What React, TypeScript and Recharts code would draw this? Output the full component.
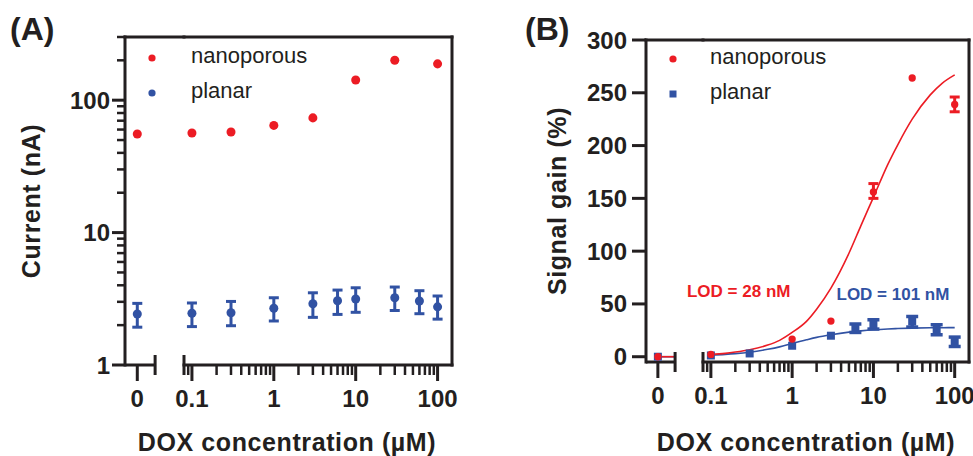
import React from 'react'
import {
  ComposedChart,
  ErrorBar,
  Label,
  Legend,
  Line,
  ReferenceDot,
  ReferenceLine,
  Scatter,
  XAxis,
  YAxis,
  ZAxis,
} from 'recharts'

const RED = '#ec1c24'
const BLUE = '#3152a3'
const INK = '#231f20'
const FONT = '"Liberation Sans", Arial, Helvetica, sans-serif'

// shared broken x axis: a short "0" stub, then a log axis from 0.08 to 150 µM
const ZERO_BREAK = 1.45
const zeroDomain = [-1, 3.8]
const logDomain = [0.08, 150]
const logTicks = [
  0.08, 0.09, 0.1, 0.2, 0.3, 0.4, 0.5, 0.6, 0.7, 0.8, 0.9, 1, 2, 3, 4, 5, 6, 7, 8, 9, 10, 20, 30, 40, 50, 60, 70, 80,
  90, 100,
]
const logLabels = [0.1, 1, 10, 100]

// (A) current
const currentTicks = [1, 2, 3, 4, 5, 6, 7, 8, 9, 10, 20, 30, 40, 50, 60, 70, 80, 90, 100, 200, 300]
const currentLabels = [1, 10, 100]
const nanoConcA = [0, 0.1, 0.3, 1, 3, 10, 30, 100]
const nanoCurrent = [55.5, 56.5, 57.5, 64.5, 73.5, 142, 200, 188]
const planarConcA = [0, 0.1, 0.3, 1, 3, 6, 10, 30, 60, 100]
const planarCurrent = [2.43, 2.46, 2.48, 2.68, 2.9, 3.06, 3.15, 3.22, 3.04, 2.75]
const planarCurrentLow = [1.93, 1.95, 1.98, 2.15, 2.29, 2.41, 2.5, 2.58, 2.44, 2.22]
const planarCurrentHigh = [2.92, 2.94, 3.02, 3.22, 3.51, 3.68, 3.83, 3.88, 3.64, 3.32]

// (B) signal gain
const gainTicks = [0, 50, 100, 150, 200, 250, 300]
const nanoConcB = [0, 0.1, 1, 3, 10, 30, 100]
const nanoGain = [0, 2.2, 16.7, 33.8, 156, 264, 239]
const nanoGainLow = [null, null, null, null, 150, null, 232]
const nanoGainHigh = [null, null, null, null, 164, null, 246]
const planarConcB = [0, 0.1, 0.3, 1, 3, 6, 10, 30, 60, 100]
const planarGain = [0, 1.2, 3.1, 10.4, 19.9, 27.1, 30.3, 33.4, 25.6, 13.9]
const planarGainLow = [null, null, null, null, null, 23, 26.2, 28.1, 20.8, 9.7]
const planarGainHigh = [null, null, null, null, null, 31, 35, 38.1, 30.3, 18.6]

// fitted curves
const fitConc = [0.1, 0.15, 0.2, 0.3, 0.5, 0.7, 1, 1.5, 2, 3, 5, 7, 10, 15, 20, 30, 50, 70, 100]
const nanoFit = [2.2, 3.2, 4.4, 6.6, 11, 15.5, 23, 33.5, 45, 65, 98, 124, 151, 182, 201, 225, 248, 259, 267]
const planarFit = [1.5, 2.2, 2.9, 4.3, 7, 9.3, 12.5, 16, 18.3, 20.8, 23.3, 24.5, 25.5, 26.3, 26.7, 27.1, 27.4, 27.5, 27.6]
const fitAtZero = 0

const lodNano = { text: 'LOD = 28 nM', x: 0.22, y: 62 }
const lodPlanar = { text: 'LOD = 101 nM', x: 17.4, y: 59 }

type Pt = { x: number; y: number; err?: number[] }

const toPoints = (xs: number[], ys: number[], lo?: (number | null)[], hi?: (number | null)[]): Pt[] =>
  xs.map((x, i) => {
    const l = lo?.[i]
    const h = hi?.[i]
    return { x, y: ys[i], err: l != null && h != null ? [ys[i] - l, h - ys[i]] : undefined }
  })

const onZero = (d: Pt[]) => d.filter((p) => p.x === 0)
const onLog = (d: Pt[]) => d.filter((p) => p.x > 0)

const nanoA = toPoints(nanoConcA, nanoCurrent)
const planarA = toPoints(planarConcA, planarCurrent, planarCurrentLow, planarCurrentHigh)
const nanoB = toPoints(nanoConcB, nanoGain, nanoGainLow, nanoGainHigh)
const planarB = toPoints(planarConcB, planarGain, planarGainLow, planarGainHigh)
const nanoFitData = toPoints(fitConc, nanoFit)
const planarFitData = toPoints(fitConc, planarFit)
const zeroFitData = toPoints([0, ZERO_BREAK], [fitAtZero, fitAtZero])

const frameLine = { stroke: INK, strokeWidth: 3, strokeLinecap: 'square' as const }
const boldText = { fill: INK, fontFamily: FONT, fontWeight: 'bold' as const }

const makeXTick = (labels: number[], breakAt: number) => (props: any) => {
  const { x, y, payload } = props
  const v = payload.value
  if (v === breakAt) {
    return <line x1={x} x2={x} y1={y - 10} y2={y + 10} stroke={INK} strokeWidth={3} />
  }
  const major = labels.includes(v)
  return (
    <g>
      <line x1={x} x2={x} y1={y} y2={y + (major ? 16 : 10)} stroke={INK} strokeWidth={major ? 3 : 2.5} />
      {major && (
        <text x={x} y={y + 42} textAnchor="middle" fontSize={24} {...boldText}>
          {String(v)}
        </text>
      )}
    </g>
  )
}

const makeYTick = (labels: number[], gap: number, majorLen: number) => (props: any) => {
  const { x, y, payload } = props
  const v = payload.value
  const major = labels.includes(v)
  return (
    <g>
      <line x1={x} x2={x - (major ? majorLen : 8)} y1={y} y2={y} stroke={INK} strokeWidth={major ? 3 : 2.5} />
      {major && (
        <text x={x - gap} y={y + 8.5} textAnchor="end" fontSize={24} {...boldText}>
          {String(v)}
        </text>
      )}
    </g>
  )
}

const xTitle = (dx: number) => (props: any) => {
  const { x, y, width, height } = props.viewBox
  return (
    <text x={x + width / 2 + dx} y={y + height - 5} textAnchor="middle" fontSize={25} letterSpacing={0.6} {...boldText}>
      DOX concentration (µM)
    </text>
  )
}

const yTitle = (title: string, baselineX: number) => (props: any) => {
  const { x, y, height } = props.viewBox
  const cx = x + baselineX
  const cy = y + height / 2
  return (
    <text
      x={cx}
      y={cy}
      transform={`rotate(-90 ${cx} ${cy})`}
      textAnchor="middle"
      fontSize={25}
      letterSpacing={0.6}
      {...boldText}
    >
      {title}
    </text>
  )
}

const makeLegend = (textGap: number) => (props: any) => (
  <div style={{ fontFamily: FONT }}>
    {(props.payload ?? [])
      .filter((item: any) => item.type !== 'none')
      .map((item: any) => (
        <div key={item.value} style={{ display: 'flex', alignItems: 'center', height: 35 }}>
          <svg width={10} height={10} style={{ display: 'block' }}>
            {item.type === 'square' ? (
              <rect x={1.5} y={1.5} width={7} height={7} fill={item.color} />
            ) : (
              <circle cx={5} cy={5} r={3.6} fill={item.color} />
            )}
          </svg>
          <span style={{ marginLeft: textGap, fontSize: 22, lineHeight: '22px', color: INK, position: 'relative', top: -2 }}>
            {item.value}
          </span>
        </div>
      ))}
  </div>
)

const lodShape = (text: string, color: string) => (p: any) => (
  <text x={p.cx} y={p.cy + 6} textAnchor="middle" fill={color} fontFamily={FONT} fontWeight="bold" fontSize={17}>
    {text}
  </text>
)

const zeroTick = makeXTick([0], ZERO_BREAK)
const logTick = makeXTick(logLabels, 0.08)

const panelLetter = (letter: string, left: number) => (
  <div
    style={{
      position: 'absolute',
      left,
      top: 13,
      fontFamily: FONT,
      fontWeight: 'bold',
      fontSize: 32,
      lineHeight: '32px',
      color: INK,
    }}
  >
    {letter}
  </div>
)

function PanelA() {
  return (
    <>
      {panelLetter('(A)', 10)}
      <div style={{ position: 'absolute', left: 0, top: 0 }}>
        <ComposedChart width={194} height={456} margin={{ top: 0, right: 10, bottom: 0, left: 0 }}>
          <XAxis xAxisId="top" orientation="top" type="number" domain={[0, 1]} height={37} tick={false} tickLine={false} axisLine={frameLine} />
          <XAxis
            dataKey="x"
            type="number"
            domain={zeroDomain}
            allowDataOverflow
            ticks={[0, ZERO_BREAK]}
            interval={0}
            height={91}
            axisLine={false}
            tickLine={false}
            tickSize={0}
            tickMargin={0}
            tick={zeroTick}
          />
          <YAxis
            dataKey="y"
            type="number"
            scale="log"
            domain={[1, 300]}
            allowDataOverflow
            ticks={currentTicks}
            interval={0}
            width={125}
            axisLine={frameLine}
            tickLine={false}
            tickSize={0}
            tickMargin={0}
            tick={makeYTick(currentLabels, 15, 13)}
          >
            <Label content={yTitle('Current (nA)', 40)} />
          </YAxis>
          <ZAxis range={[40, 40]} />
          <ZAxis zAxisId="small" range={[20, 20]} />
          <ReferenceLine
            segment={[
              { x: zeroDomain[0], y: 1 },
              { x: ZERO_BREAK, y: 1 },
            ]}
            stroke={INK}
            strokeWidth={3}
            ifOverflow="visible"
          />
          <Scatter name="nanoporous" data={onZero(nanoA)} fill={RED} legendType="circle" isAnimationActive={false} />
          <Scatter name="planar" data={onZero(planarA)} fill={BLUE} zAxisId="small" legendType="circle" isAnimationActive={false}>
            <ErrorBar dataKey="err" direction="y" width={5} strokeWidth={3} stroke={BLUE} isAnimationActive={false} />
          </Scatter>
          <Legend
            layout="vertical"
            align="center"
            verticalAlign="middle"
            content={makeLegend(34)}
            wrapperStyle={{ left: 147, top: 40.5, width: 220, height: 70 }}
          />
        </ComposedChart>
      </div>
      {/* log part: wide left margin so the shared x title is not clipped */}
      <div style={{ position: 'absolute', left: 0, top: 0 }}>
        <ComposedChart width={482} height={456} margin={{ top: 0, right: 0, bottom: 0, left: 184 }}>
          <XAxis xAxisId="top" orientation="top" type="number" domain={[0, 1]} height={37} tick={false} tickLine={false} axisLine={frameLine} />
          <XAxis
            dataKey="x"
            type="number"
            scale="log"
            domain={logDomain}
            allowDataOverflow
            ticks={logTicks}
            interval={0}
            height={91}
            axisLine={frameLine}
            tickLine={false}
            tickSize={0}
            tickMargin={0}
            tick={logTick}
          >
            <Label content={xTitle(-31)} />
          </XAxis>
          <YAxis dataKey="y" type="number" scale="log" domain={[1, 300]} allowDataOverflow hide />
          <YAxis yAxisId="right" orientation="right" type="number" domain={[0, 1]} width={30} tick={false} tickLine={false} axisLine={frameLine} />
          <ZAxis range={[40, 40]} />
          <ZAxis zAxisId="small" range={[20, 20]} />
          <Scatter name="nanoporous" data={onLog(nanoA)} fill={RED} isAnimationActive={false} />
          <Scatter name="planar" data={onLog(planarA)} fill={BLUE} zAxisId="small" isAnimationActive={false}>
            <ErrorBar dataKey="err" direction="y" width={5} strokeWidth={3} stroke={BLUE} isAnimationActive={false} />
          </Scatter>
        </ComposedChart>
      </div>
    </>
  )
}

function PanelB() {
  return (
    <>
      {panelLetter('(B)', 525)}
      <div style={{ position: 'absolute', left: 490, top: 0 }}>
        <ComposedChart width={223} height={456} margin={{ top: 0, right: 10, bottom: 0, left: 0 }}>
          <XAxis xAxisId="top" orientation="top" type="number" domain={[0, 1]} height={40} tick={false} tickLine={false} axisLine={frameLine} />
          <XAxis
            dataKey="x"
            type="number"
            domain={zeroDomain}
            allowDataOverflow
            ticks={[0, ZERO_BREAK]}
            interval={0}
            height={94}
            axisLine={false}
            tickLine={false}
            tickSize={0}
            tickMargin={0}
            tick={zeroTick}
          />
          <YAxis
            dataKey="y"
            type="number"
            domain={[-5, 300]}
            allowDataOverflow
            ticks={gainTicks}
            interval={0}
            width={156}
            axisLine={frameLine}
            tickLine={false}
            tickSize={0}
            tickMargin={0}
            tick={makeYTick(gainTicks, 19, 14)}
          >
            <Label content={yTitle('Signal gain (%)', 76)} />
          </YAxis>
          <ZAxis range={[42, 42]} />
          <ZAxis zAxisId="sq" range={[50, 50]} />
          <ReferenceLine
            segment={[
              { x: zeroDomain[0], y: -5 },
              { x: ZERO_BREAK, y: -5 },
            ]}
            stroke={INK}
            strokeWidth={3}
            ifOverflow="visible"
          />
          <Line data={zeroFitData} dataKey="y" stroke={BLUE} strokeWidth={1.6} dot={false} legendType="none" isAnimationActive={false} />
          <Line data={zeroFitData} dataKey="y" stroke={RED} strokeWidth={1.6} dot={false} legendType="none" isAnimationActive={false} />
          <Scatter name="planar" data={onZero(planarB)} fill={BLUE} shape="square" zAxisId="sq" legendType="square" isAnimationActive={false} />
          <Scatter name="nanoporous" data={onZero(nanoB)} fill={RED} legendType="circle" isAnimationActive={false} />
          <Legend
            layout="vertical"
            align="center"
            verticalAlign="middle"
            content={makeLegend(32)}
            wrapperStyle={{ left: 178, top: 41.5, width: 220, height: 70 }}
          />
        </ComposedChart>
      </div>
      <div style={{ position: 'absolute', left: 490, top: 0 }}>
        <ComposedChart width={483} height={456} margin={{ top: 0, right: 0, bottom: 0, left: 213 }}>
          <XAxis xAxisId="top" orientation="top" type="number" domain={[0, 1]} height={40} tick={false} tickLine={false} axisLine={frameLine} />
          <XAxis
            dataKey="x"
            type="number"
            scale="log"
            domain={logDomain}
            allowDataOverflow
            ticks={logTicks}
            interval={0}
            height={94}
            axisLine={frameLine}
            tickLine={false}
            tickSize={0}
            tickMargin={0}
            tick={logTick}
          >
            <Label content={xTitle(-30)} />
          </XAxis>
          <YAxis dataKey="y" type="number" domain={[-5, 300]} allowDataOverflow hide />
          <YAxis yAxisId="right" orientation="right" type="number" domain={[0, 1]} width={4} tick={false} tickLine={false} axisLine={frameLine} />
          <ZAxis range={[42, 42]} />
          <ZAxis zAxisId="sq" range={[50, 50]} />
          <Line data={planarFitData} dataKey="y" type="monotone" stroke={BLUE} strokeWidth={1.6} dot={false} legendType="none" isAnimationActive={false} />
          <Line data={nanoFitData} dataKey="y" type="monotone" stroke={RED} strokeWidth={1.6} dot={false} legendType="none" isAnimationActive={false} />
          <Scatter name="planar" data={onLog(planarB)} fill={BLUE} shape="square" zAxisId="sq" isAnimationActive={false}>
            <ErrorBar dataKey="err" direction="y" width={6} strokeWidth={3.5} stroke={BLUE} isAnimationActive={false} />
          </Scatter>
          <Scatter name="nanoporous" data={onLog(nanoB)} fill={RED} isAnimationActive={false}>
            <ErrorBar dataKey="err" direction="y" width={5} strokeWidth={3} stroke={RED} isAnimationActive={false} />
          </Scatter>
          <ReferenceDot x={lodNano.x} y={lodNano.y} r={0} ifOverflow="visible" shape={lodShape(lodNano.text, RED)} />
          <ReferenceDot x={lodPlanar.x} y={lodPlanar.y} r={0} ifOverflow="visible" shape={lodShape(lodPlanar.text, BLUE)} />
        </ComposedChart>
      </div>
    </>
  )
}

export default function App() {
  return (
    <div style={{ position: 'absolute', left: 0, top: 0, width: 973, height: 456, background: '#fff', overflow: 'hidden' }}>
      <PanelA />
      <PanelB />
    </div>
  )
}
